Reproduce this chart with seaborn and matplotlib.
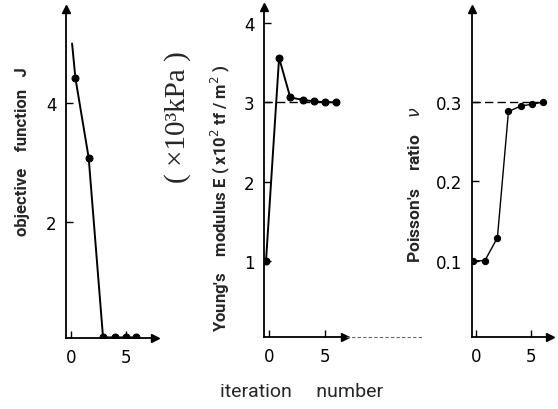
import matplotlib
matplotlib.use("Agg")
import matplotlib.pyplot as plt
import seaborn as sns

# objective function J
iter_j = [0.1, 0.4, 1.6, 2.9, 4.0, 5.0, 5.9]
obj_j = [5.0, 4.42, 3.08, 0.06, 0.06, 0.06, 0.06]

# Young's modulus E (x10^2 tf/m^2)
iter_e = [-0.27, 0.9, 1.9, 3.0, 4.0, 5.0, 6.0]
young_e = [1.0, 3.56, 3.06, 3.03, 3.01, 3.0, 3.0]
true_e = 3.0

# Poisson's ratio
iter_nu = [-0.3, 0.8, 1.94, 2.94, 4.1, 5.06, 6.1]
poisson_nu = [0.1, 0.1, 0.129, 0.288, 0.295, 0.297, 0.3]
true_nu = 0.3

sns.set_style("ticks")
plt.rcParams["font.family"] = ["DejaVu Sans"]

W, H = 558, 410
fig = plt.figure(figsize=(W / 100, H / 100), dpi=100)


def box(l, r, t, b):
    return [l / W, 1 - b / H, (r - l) / W, (b - t) / H]


def arrows(ax):
    ax.plot(0, 1, marker="^", color="k", ms=6, transform=ax.transAxes, clip_on=False)
    ax.plot(1, 0, marker=">", color="k", ms=6, transform=ax.transAxes, clip_on=False)


def style(ax):
    sns.despine(ax=ax)
    for s in ["left", "bottom"]:
        ax.spines[s].set_linewidth(1.3)
        ax.spines[s].set_color("k")
    ax.tick_params(direction="in", length=5, width=1, labelsize=12, colors="k", pad=7)
    arrows(ax)
    ax.set_xlabel("")
    ax.set_ylabel("")


ax1 = fig.add_axes(box(66, 155, 10, 339))
sns.lineplot(x=iter_j, y=obj_j, ax=ax1, color="k", marker="o", ms=5, mec="k", lw=1.4,
             sort=False, estimator=None, markevery=list(range(1, 7)))
ax1.set_xlim(-0.45, 7.6)
ax1.set_ylim(0.05, 5.58)
ax1.set_xticks([0, 5])
ax1.set_yticks([2, 4])
style(ax1)

ax2 = fig.add_axes(box(264, 345, 8, 338))
ax2.hlines(true_e, -0.45, 6.0, colors="k", linestyles=(0, (6, 3)), lw=1)
sns.lineplot(x=iter_e, y=young_e, ax=ax2, color="k", marker="o", ms=5, mec="k", lw=1.4,
             sort=False, estimator=None)
ax2.set_xlim(-0.45, 6.8)
ax2.set_ylim(0.04, 4.2)
ax2.set_xticks([0, 5])
ax2.set_yticks([1, 2, 3, 4])
style(ax2)
ax2.plot([6.9, 13.7], [0.04, 0.04], color="0.4", lw=0.8, ls=(0, (3, 2)), clip_on=False)

ax3 = fig.add_axes(box(472, 550, 10, 338))
ax3.hlines(true_nu, -0.36, 6.1, colors="k", linestyles=(0, (6, 3)), lw=1)
sns.lineplot(x=iter_nu, y=poisson_nu, ax=ax3, color="k", marker="o", ms=4.5, mec="k", lw=1.0,
             sort=False, estimator=None)
ax3.set_xlim(-0.36, 6.7)
ax3.set_ylim(0.004, 0.417)
ax3.set_xticks([0, 5])
ax3.set_yticks([0.1, 0.2, 0.3])
ax3.set_yticklabels(["0.1", "0.2", "0.3"])
style(ax3)

lab = ["Roboto", "DejaVu Sans"]
fig.text(23 / W, 1 - 152 / H, "objective    function   J", rotation=90,
         ha="center", va="center", fontsize=12, fontweight="bold", family=lab)
fig.text(220 / W, 1 - 198 / H, "Young's    modulus E ( x10$^{2}$ tf / m$^{2}$ )",
         rotation=90, ha="center", va="center", fontsize=12, fontweight="bold", family=lab)
fig.text(415 / W, 1 - 185 / H, r"Poisson's    ratio    $\nu$", rotation=90,
         ha="center", va="center", fontsize=12.5, fontweight="bold", family=lab)
fig.text(178 / W, 1 - 117 / H, "( ×10³kPa )", rotation=90, ha="center", va="center",
         fontsize=21, family=["Liberation Serif", "DejaVu Serif"])
fig.text(302 / W, 1 - 392 / H, "iteration     number", ha="center", va="center",
         fontsize=14, family=lab)

fig.savefig("out.png", dpi=100, facecolor="white")
